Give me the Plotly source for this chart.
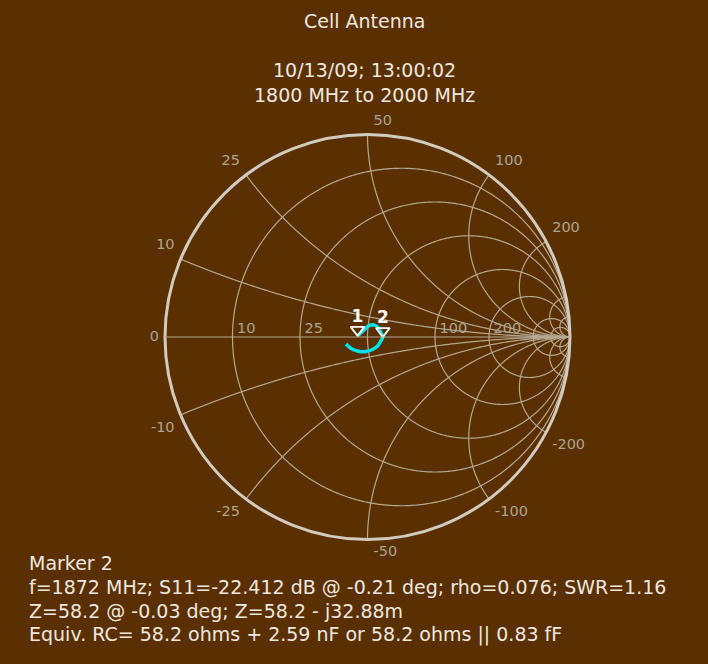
import numpy as np
import plotly.graph_objects as go

Z0 = 50.0  # reference impedance, ohms

# Measured S11 sweep, 1800-2000 MHz, as impedance in ohms
sweep_r = [45.3, 47.75, 49.5, 51.4, 53.75, 55.8, 57.1, 58.2, 56.8, 55.0, 52.1, 48.8, 45.75, 43.0, 41.3, 40.3]
sweep_x = [0.5, 2.83, 4.9, 6.12, 6.14, 4.71, 2.27, -0.03288, -2.53, -4.9, -6.46, -7.02, -6.59, -5.36, -3.91, -2.82]

# Markers on the sweep
marker_names = ["1", "2"]
marker_r = [45.3, 58.2]
marker_x = [0.5, -0.03288]

# Grid circles / arcs (ohms)
grid_r = [10, 25, 50, 100, 200, 500, 1000]
grid_x = [10, 25, 50, 100, 200, 500, 1000]

# Labelled values (ohms)
r_labels = [10, 25, 100, 200]
x_labels = [0, 10, 25, 50, 100, 200, -10, -25, -50, -100, -200]

title_lines = ["Cell Antenna", "10/13/09; 13:00:02", "1800 MHz to 2000 MHz"]
readout_lines = [
    "Marker 2",
    "f=1872 MHz; S11=-22.412 dB @ -0.21 deg; rho=0.076; SWR=1.16",
    "Z=58.2 @ -0.03 deg; Z=58.2 - j32.88m",
    "Equiv. RC= 58.2 ohms + 2.59 nF or 58.2 ohms || 0.83 fF",
]

BG = "#5a3000"
GRID = "#b4a893"
RIM = "#d2ccc0"
TICK = "#aca496"
TEXT = "#eee8e0"
TRACE = "#00e4ec"
FONT = "DejaVu Sans"
CLEAR = "rgba(0,0,0,0)"

W, H = 708, 664


def x_label_pos(v):
    if v == 0:
        return "middle left"
    vert = "top" if v > 0 else "bottom"
    horiz = "left" if abs(v) < Z0 else "right"
    return f"{vert} {horiz}"


fig = go.Figure()

# constant-resistance circles (sweep reactance over the whole circle)
t_full = np.linspace(-np.pi / 2 + 1e-3, np.pi / 2 - 1e-3, 721)
for r in grid_r:
    rn = r / Z0
    fig.add_trace(go.Scattersmith(
        real=np.full_like(t_full, rn),
        imag=(1 + rn) * np.tan(t_full),
        mode="lines", line=dict(color=GRID, width=1.2),
        hoverinfo="skip",
    ))

# constant-reactance arcs (sweep resistance from 0 outward)
t_half = np.linspace(0, np.pi / 2 - 1e-3, 481)
for x in grid_x:
    xn = x / Z0
    for sign in (1, -1):
        fig.add_trace(go.Scattersmith(
            real=xn * np.tan(t_half),
            imag=np.full_like(t_half, sign * xn),
            mode="lines", line=dict(color=GRID, width=1.2),
            hoverinfo="skip",
        ))

fig.add_trace(go.Scattersmith(
    real=[r / Z0 for r in sweep_r],
    imag=[x / Z0 for x in sweep_x],
    mode="lines",
    line=dict(color=TRACE, width=3.5, shape="spline"),
    hoverinfo="skip",
))

# resistance labels along the real axis
fig.add_trace(go.Scattersmith(
    real=[r / Z0 for r in r_labels],
    imag=[0] * len(r_labels),
    mode="text",
    text=["\u00a0" + str(r) for r in r_labels],
    textposition="top right",
    textfont=dict(family=FONT, size=14.5, color=TICK),
    cliponaxis=False,
    hoverinfo="skip",
))

# reactance labels around the rim (an invisible marker keeps them off the rim)
fig.add_trace(go.Scattersmith(
    real=[0] * len(x_labels),
    imag=[x / Z0 for x in x_labels],
    mode="markers+text",
    marker=dict(size=8, color=CLEAR),
    text=[str(x) for x in x_labels],
    textposition=[x_label_pos(x) for x in x_labels],
    textfont=dict(family=FONT, size=14.5, color=TICK),
    cliponaxis=False,
    hoverinfo="skip",
))

# marker flags: down-pointing triangle whose tip sits on the sweep point
fig.add_trace(go.Scattersmith(
    real=[r / Z0 for r in marker_r],
    imag=[x / Z0 for x in marker_x],
    mode="markers",
    marker=dict(symbol="triangle-up-open", angle=180, standoff=6,
                size=12, color="#ffffff", line=dict(width=1.8, color="#ffffff")),
    cliponaxis=False,
    hoverinfo="skip",
))

# marker numbers above the flags
fig.add_trace(go.Scattersmith(
    real=[r / Z0 for r in marker_r],
    imag=[x / Z0 for x in marker_x],
    mode="markers+text",
    marker=dict(size=14, color=CLEAR),
    text=[f"<b>{n}</b>" for n in marker_names],
    textposition="top center",
    textfont=dict(family=FONT, size=17, color="#ffffff"),
    cliponaxis=False,
    hoverinfo="skip",
))

cx, cy, rad = 367.5, 337.0, 202.5
annotations = []
for text, yc in zip(title_lines, [21, 70, 95]):
    annotations.append(dict(
        text=text, x=364 / W, y=1 - yc / H, xref="paper", yref="paper",
        xanchor="center", yanchor="middle", showarrow=False,
        font=dict(family=FONT, size=19, color=TEXT),
    ))
for text, yc in zip(readout_lines, [563, 587, 611, 634]):
    annotations.append(dict(
        text=text, x=27 / W, y=1 - yc / H, xref="paper", yref="paper",
        xanchor="left", yanchor="middle", showarrow=False,
        font=dict(family=FONT, size=19, color=TEXT),
    ))

fig.update_layout(
    width=W, height=H,
    margin=dict(l=0, r=0, t=0, b=0),
    paper_bgcolor=BG,
    showlegend=False,
    annotations=annotations,
    smith=dict(
        domain=dict(x=[(cx - rad) / W, (cx + rad) / W],
                    y=[1 - (cy + rad) / H, 1 - (cy - rad) / H]),
        bgcolor=BG,
        realaxis=dict(
            tickvals=[r / Z0 for r in grid_r],
            showticklabels=False, ticks="", showgrid=False,
            showline=True, linecolor=GRID, linewidth=1.2,
        ),
        imaginaryaxis=dict(
            tickvals=[x / Z0 for x in grid_x],
            showticklabels=False, ticks="", showgrid=False,
            showline=True, linecolor=RIM, linewidth=3,
        ),
    ),
)

fig.write_html("out.html")
